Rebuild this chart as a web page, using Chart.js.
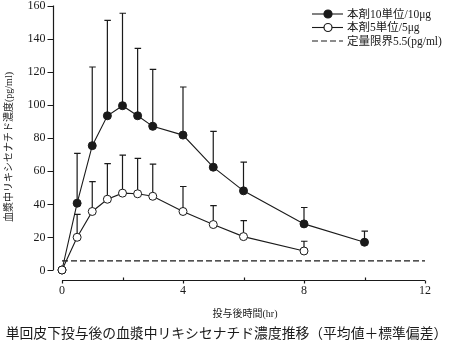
<!DOCTYPE html>
<html lang="ja">
<head>
    <meta charset="UTF-8" />
    <title>リキシセナチド血漿中濃度推移</title>
    <script src="https://cdn.jsdelivr.net/npm/chart.js"></script>
    <style>
        body {
            margin: 0;
            background: #ffffff;
        }
        canvas {
            display: block;
        }
    </style>
</head>
<body>

<canvas id="pkChart" width="453" height="345"></canvas>

<script>
    // time after dosing (hr)
    const times10 = [0, 0.5, 1, 1.5, 2, 2.5, 3, 4, 5, 6, 8, 10];
    const mean10 = [0, 40.4, 75.2, 93.3, 99.4, 93.3, 86.9, 81.6, 62.2, 47.9, 27.9, 16.8];
    const sd10 = [0, 30.1, 47.6, 57.7, 55.9, 40.8, 34.5, 29.1, 21.6, 17.4, 9.9, 6.7];

    const times5 = [0, 0.5, 1, 1.5, 2, 2.5, 3, 4, 5, 6, 8];
    const mean5 = [0, 19.8, 35.4, 42.8, 46.5, 46.1, 44.6, 35.4, 27.5, 20.2, 11.5];
    const sd5 = [0, 13.9, 18.1, 21.6, 23.0, 21.4, 19.4, 15.1, 11.5, 9.7, 5.9];

    const lloq = 5.5;
    const lloqRange = [0, 12];

    const yTicks = [0, 20, 40, 60, 80, 100, 120, 140, 160];
    const xMinorTicks = [0, 2, 4, 6, 8, 10, 12];
    const xTickLabels = [0, 4, 8, 12];

    const seriesNames = ['本剤10単位/10μg', '本剤5単位/5μg', '定量限界5.5(pg/ml)'];
    const yTitle = '血漿中リキシセナチド濃度(pg/ml)';
    const xTitle = '投与後時間(hr)';
    const caption = '単回皮下投与後の血漿中リキシセナチド濃度推移（平均値＋標準偏差）';

    const INK = '#1a1a1a';
    const SERIF = "'Liberation Serif', 'Noto Sans CJK JP', serif";

    const toPoints = (xs, ys) => xs.map((t, i) => ({ x: t, y: ys[i] }));

    // upper-only SD bars with a small cap
    const errorBars = {
        id: 'errorBars',
        beforeDatasetsDraw(chart) {
            const { ctx, scales: { x, y } } = chart;
            ctx.save();
            ctx.strokeStyle = INK;
            ctx.lineWidth = 1.2;
            chart.data.datasets.forEach(ds => {
                if (!ds.sd) return;
                ds.data.forEach((p, i) => {
                    const sd = ds.sd[i];
                    if (!sd) return;
                    const px = x.getPixelForValue(p.x);
                    const y0 = y.getPixelForValue(p.y);
                    const y1 = y.getPixelForValue(p.y + sd);
                    ctx.beginPath();
                    ctx.moveTo(px, y0);
                    ctx.lineTo(px, y1);
                    ctx.moveTo(px - 3, y1);
                    ctx.lineTo(px + 3.5, y1);
                    ctx.stroke();
                });
            });
            ctx.restore();
        }
    };

    // detached axes, tick labels, titles and legend
    const frame = {
        id: 'frame',
        afterDraw(chart) {
            const { ctx, chartArea, scales: { x, y } } = chart;
            const axisX = chartArea.left - 8.5;
            const axisY = chartArea.bottom + 10.5;
            ctx.save();
            ctx.strokeStyle = INK;
            ctx.fillStyle = INK;
            ctx.lineWidth = 1.2;

            // y axis
            ctx.beginPath();
            ctx.moveTo(axisX, y.getPixelForValue(yTicks[0]));
            ctx.lineTo(axisX, y.getPixelForValue(yTicks[yTicks.length - 1]));
            yTicks.forEach(v => {
                const py = Math.round(y.getPixelForValue(v)) + 0.5;
                ctx.moveTo(axisX, py);
                ctx.lineTo(axisX - 6, py);
            });
            ctx.stroke();
            ctx.font = '12px ' + SERIF;
            ctx.textAlign = 'right';
            ctx.textBaseline = 'middle';
            yTicks.forEach(v => ctx.fillText(String(v), axisX - 8, y.getPixelForValue(v) + 0.5));

            // x axis: labelled ticks point down, the others up
            ctx.beginPath();
            ctx.moveTo(x.getPixelForValue(xMinorTicks[0]), axisY);
            ctx.lineTo(x.getPixelForValue(xMinorTicks[xMinorTicks.length - 1]), axisY);
            xMinorTicks.forEach(v => {
                const px = Math.round(x.getPixelForValue(v)) + 0.5;
                const down = xTickLabels.includes(v);
                ctx.moveTo(px, axisY);
                ctx.lineTo(px, down ? axisY + 3 : axisY - 3);
            });
            ctx.stroke();
            ctx.textAlign = 'center';
            ctx.textBaseline = 'middle';
            xTickLabels.forEach(v => ctx.fillText(String(v), x.getPixelForValue(v), axisY + 10.5));

            // axis titles
            ctx.font = '10px ' + SERIF;
            ctx.fillText(xTitle, 245, 314);
            ctx.save();
            ctx.translate(9, 147);
            ctx.rotate(-Math.PI / 2);
            ctx.fillText(yTitle, 0, 0);
            ctx.restore();

            // caption under the plot
            ctx.font = '13.8px ' + SERIF;
            ctx.fillText(caption, 226.5, 334);

            // legend
            const rows = [13.5, 27, 40.5];
            ctx.font = '11.5px ' + SERIF;
            ctx.textAlign = 'left';
            chart.data.datasets.forEach((ds, i) => {
                const ly = rows[i];
                ctx.save();
                ctx.strokeStyle = ds.borderColor;
                ctx.lineWidth = 1.1;
                ctx.setLineDash(ds.borderDash || []);
                ctx.beginPath();
                ctx.moveTo(312, ly + 0.5);
                ctx.lineTo(343, ly + 0.5);
                ctx.stroke();
                ctx.restore();
                if (ds.pointRadius) {
                    ctx.beginPath();
                    ctx.arc(328, ly + 0.5, ds.pointRadius, 0, Math.PI * 2);
                    ctx.fillStyle = ds.pointBackgroundColor;
                    ctx.fill();
                    ctx.strokeStyle = INK;
                    ctx.stroke();
                }
                ctx.fillStyle = INK;
                ctx.fillText(ds.label, 347, ly + 1);
            });
            ctx.restore();
        }
    };

    new Chart(document.getElementById('pkChart'), {
        type: 'line',
        data: {
            datasets: [
                {
                    label: seriesNames[0],
                    data: toPoints(times10, mean10),
                    sd: sd10,
                    borderColor: INK,
                    borderWidth: 1.1,
                    pointRadius: 4,
                    pointBackgroundColor: INK,
                    pointBorderColor: INK,
                    pointBorderWidth: 1,
                    clip: false,
                    order: 1
                },
                {
                    label: seriesNames[1],
                    data: toPoints(times5, mean5),
                    sd: sd5,
                    borderColor: INK,
                    borderWidth: 1.1,
                    pointRadius: 4,
                    pointBackgroundColor: '#ffffff',
                    pointBorderColor: INK,
                    pointBorderWidth: 1,
                    clip: false,
                    order: 0
                },
                {
                    label: seriesNames[2],
                    data: lloqRange.map(t => ({ x: t, y: lloq })),
                    borderColor: INK,
                    borderWidth: 1.2,
                    borderDash: [6, 3],
                    pointRadius: 0,
                    clip: false,
                    order: 2
                }
            ]
        },
        options: {
            responsive: false,
            animation: false,
            layout: {
                padding: { left: 62, right: 28, top: 5.5, bottom: 75 }
            },
            scales: {
                x: { type: 'linear', min: 0, max: 12, display: false },
                y: { type: 'linear', min: 0, max: 160, display: false }
            },
            plugins: {
                legend: { display: false },
                tooltip: { enabled: false }
            }
        },
        plugins: [errorBars, frame]
    });
</script>

</body>
</html>
